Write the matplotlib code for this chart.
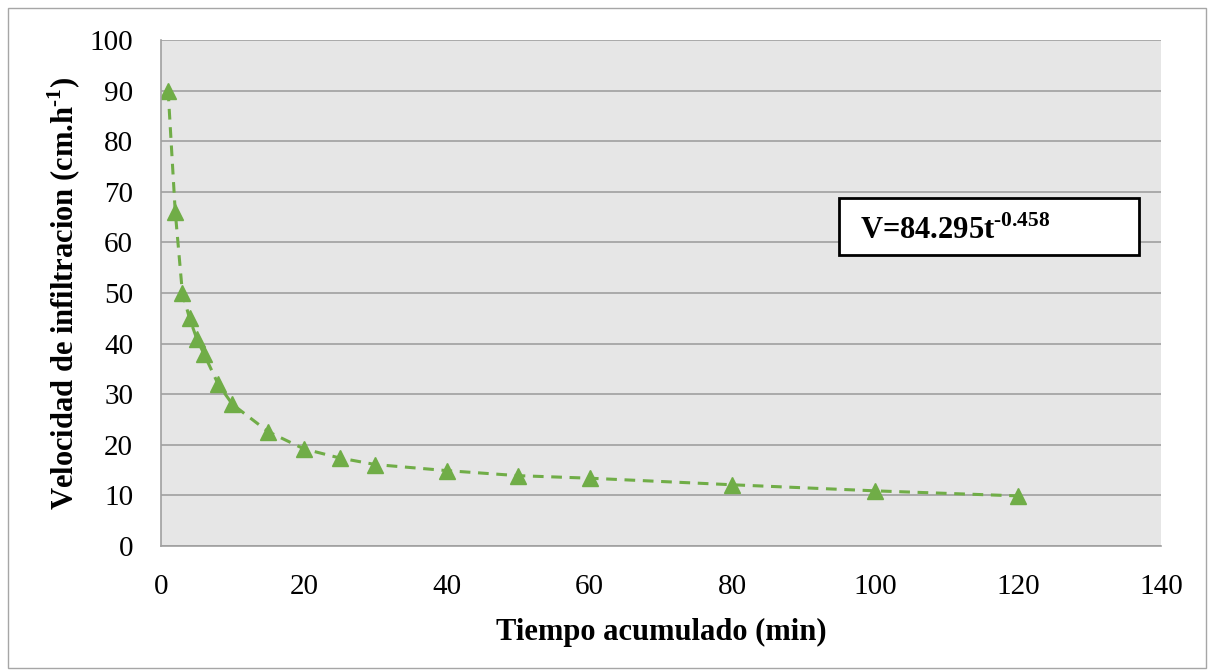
import numpy as np
import matplotlib.pyplot as plt
from matplotlib.patches import Rectangle

# tiempo acumulado (min) and velocidad de infiltracion (cm/h)
tiempo = [1, 2, 3, 4, 5, 6, 8, 10, 15, 20, 25, 30, 40, 50, 60, 80, 100, 120]
velocidad = [90, 66, 50, 45, 41, 38, 32, 28, 22.6, 19.2, 17.4, 16.1, 14.9, 13.9, 13.4, 12.1, 10.9, 9.9]
xticks = [0, 20, 40, 60, 80, 100, 120, 140]
yticks = [0, 10, 20, 30, 40, 50, 60, 70, 80, 90, 100]

plt.rcParams['font.family'] = ['Liberation Serif', 'DejaVu Serif']
plt.rcParams['mathtext.fontset'] = 'custom'
plt.rcParams['mathtext.rm'] = 'Liberation Serif:bold'
plt.rcParams['mathtext.bf'] = 'Liberation Serif:bold'

fig = plt.figure(figsize=(12.14, 6.72), dpi=100)
fig.patches.append(Rectangle((0.007, 0.006), 0.986, 0.982, transform=fig.transFigure,
                             fill=False, edgecolor='#a6a6a6', lw=1))
ax = fig.add_axes([0.1326, 0.1875, 0.8237, 0.753])
ax.set_facecolor('#e6e6e6')

ax.plot(tiempo, velocidad, linestyle=(0, (3.5, 2.5)), color='#70ad47', lw=2.2,
        marker='^', markersize=11, markerfacecolor='#70ad47', markeredgecolor='#70ad47')

ax.set_xlim(0, 140)
ax.set_ylim(0, 100)
ax.set_xticks(xticks)
ax.set_yticks(yticks)
ax.grid(axis='y', color='#a0a0a0', lw=1.2)
ax.set_axisbelow(True)
ax.tick_params(length=0, labelsize=21)
ax.tick_params(axis='x', pad=20)
ax.tick_params(axis='y', pad=20)
for s in ['top', 'right']:
    ax.spines[s].set_visible(False)
for s in ['left', 'bottom']:
    ax.spines[s].set_color('#a0a0a0')
    ax.spines[s].set_linewidth(1.2)

ax.set_xlabel('Tiempo acumulado (min)', fontsize=22, fontweight='bold', labelpad=13)
ax.set_ylabel(r'Velocidad de infiltracion (cm.h$^{\text{-1}}$)', fontsize=22, fontweight='bold', labelpad=5)

ax.add_patch(Rectangle((0.6785, 0.575), 0.3, 0.113, transform=ax.transAxes,
                       facecolor='white', edgecolor='black', lw=2, zorder=5))
ax.text(0.6995, 0.624, r'V=84.295t$^{\text{-0.458}}$', transform=ax.transAxes,
        fontsize=22, fontweight='bold', va='center', ha='left', zorder=6)

fig.savefig('out.png', dpi=100)
